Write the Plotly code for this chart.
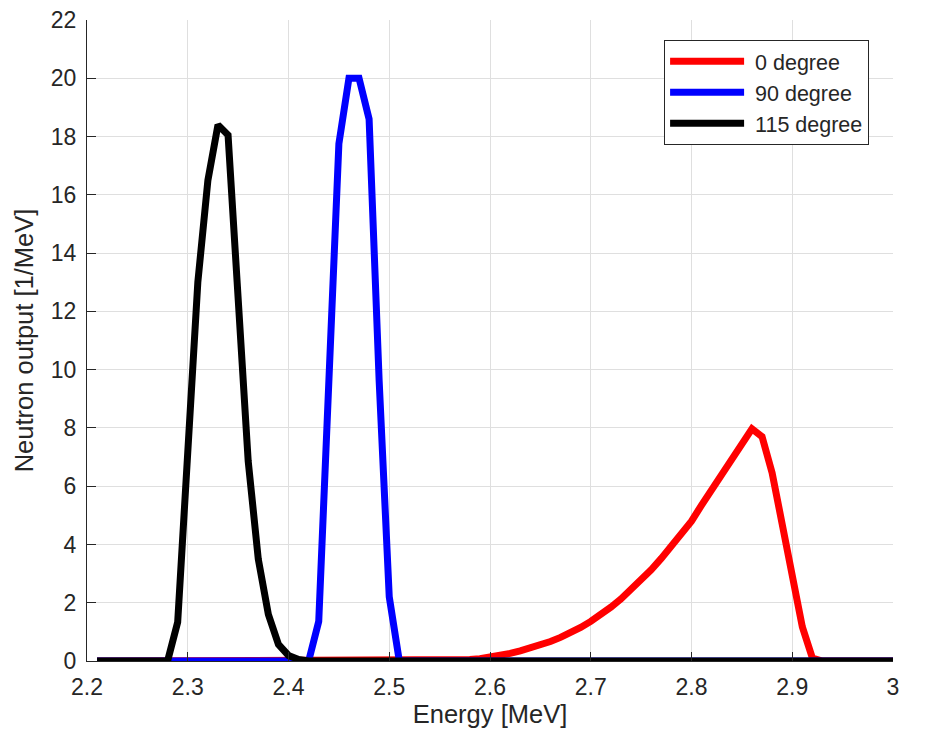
import plotly.graph_objs as go

font_family = "Liberation Sans, Arial, Helvetica, sans-serif"
ink = "#262626"

# 0 degree (red)
e_0deg = [2.21, 2.55, 2.56, 2.57, 2.58, 2.59, 2.60, 2.61, 2.62, 2.63, 2.64, 2.65, 2.66, 2.67,
          2.68, 2.69, 2.70, 2.71, 2.72, 2.73, 2.74, 2.75, 2.76, 2.77, 2.78, 2.79, 2.80, 2.81,
          2.82, 2.83, 2.84, 2.85, 2.86, 2.87, 2.88, 2.89, 2.90, 2.91, 2.92, 2.93, 3.00]
n_0deg = [0, 0, 0.01, 0.03, 0.05, 0.08, 0.12, 0.18, 0.26, 0.35, 0.44, 0.55, 0.67, 0.81,
          0.97, 1.15, 1.36, 1.58, 1.85, 2.13, 2.44, 2.78, 3.13, 3.52, 3.95, 4.38, 4.80, 5.35,
          5.87, 6.35, 6.90, 7.47, 7.97, 7.70, 6.46, 4.70, 2.93, 1.17, 0.10, 0, 0]

# 90 degree (blue)
e_90deg = [2.21, 2.42, 2.43, 2.44, 2.45, 2.46, 2.47, 2.48, 2.49, 2.50, 2.51, 3.00]
n_90deg = [0, 0, 1.36, 9.6, 17.75, 20.0, 20.0, 18.6, 9.6, 2.2, 0, 0]

# 115 degree (black)
e_115deg = [2.21, 2.28, 2.29, 2.30, 2.31, 2.32, 2.33, 2.34, 2.35, 2.36, 2.37, 2.38, 2.39,
            2.40, 2.41, 2.42, 3.00]
n_115deg = [0, 0, 1.33, 7.5, 13.0, 16.5, 18.4, 18.05, 12.45, 6.86, 3.5, 1.6, 0.57,
            0.19, 0.05, 0, 0]

series = [("0 degree", e_0deg, n_0deg, "#ff0000"),
          ("90 degree", e_90deg, n_90deg, "#0000ff"),
          ("115 degree", e_115deg, n_115deg, "#000000")]

fig = go.Figure()
for name, e, n, col in series:
    # leading space gives the gap between legend line and label
    fig.add_trace(go.Scatter(x=e, y=n, mode="lines", name=" " + name, cliponaxis=False,
                             line=dict(color=col, width=7, shape="linear")))

axis_common = dict(showline=True, linecolor=ink, linewidth=1, mirror=False,
                   ticks="inside", ticklen=9, tickcolor=ink, tickwidth=1,
                   showgrid=True, gridcolor="#dfdfdf", gridwidth=1, zeroline=False,
                   automargin=False, ticklabelstandoff=5, ticklabeloverflow="allow",
                   tickfont=dict(size=23, color=ink, family=font_family))

# page body has an 8px margin, so the plot box is shifted by that amount
fig.update_layout(
    width=934, height=744,
    margin=dict(l=79, r=49, t=12, b=91),
    paper_bgcolor="white", plot_bgcolor="white",
    font=dict(family=font_family, color=ink),
    xaxis=dict(range=[2.2, 3.0], dtick=0.1, tick0=2.2,
               title=dict(text="Energy [MeV]", font=dict(size=25.5, color=ink), standoff=4),
               **axis_common),
    yaxis=dict(range=[0, 22], dtick=2, tick0=0,
               title=dict(text="Neutron output [1/MeV]", font=dict(size=25.5, color=ink), standoff=9),
               **axis_common),
    legend=dict(x=0.716, y=0.969, xanchor="left", yanchor="top",
                bgcolor="white", bordercolor=ink, borderwidth=1,
                font=dict(size=21.5, color=ink, family=font_family),
                itemwidth=74, tracegroupgap=0),
    showlegend=True,
)

fig.write_html("out.html")
